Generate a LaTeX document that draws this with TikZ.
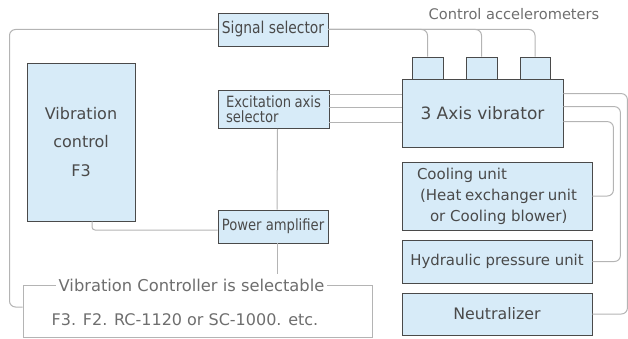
\documentclass[tikz,border=0pt]{standalone}
\usepackage{fontspec}
\setmainfont{DejaVu Sans}
\newfontfamily\condfont[FakeStretch=0.85]{DejaVu Sans}
\definecolor{boxfill}{HTML}{D7EBF8}
\definecolor{boxline}{HTML}{4A4A4A}
\definecolor{conncol}{HTML}{B4B4B4}
\definecolor{txtcol}{HTML}{4A4A4A}
\definecolor{lighttxt}{HTML}{6E6E6E}
\tikzset{
  unitbox/.style={draw=boxline, fill=boxfill, line width=0.8pt, inner sep=0pt, text=txtcol},
  conn/.style={draw=conncol, line width=1pt, rounded corners=6pt},
  smalllbl/.style={font=\condfont\fontsize{15.5}{15}\selectfont},
}
\begin{document}
\begin{tikzpicture}[x=1pt,y=-1pt]
\useasboundingbox (0,0) rectangle (628,339);
% boxes
\node[unitbox, font=\condfont\fontsize{16.3}{15}\selectfont, minimum width=110pt, minimum height=33pt] (sig) at (273,29.5) {Signal selector};
\node[unitbox, minimum width=111pt, minimum height=38pt] (exc) at (273.5,109.5)
  {\parbox{95pt}{\condfont\fontsize{15.5}{15}\selectfont Excitation axis\\selector}};
\node[unitbox, smalllbl, minimum width=110pt, minimum height=33pt] (amp) at (273,226.5) {Power amplifier};
\node[unitbox, minimum width=108pt, minimum height=158pt, align=center,
  font=\fontsize{16}{28.5}\selectfont] (f3) at (81,142) {Vibration\\control\\F3};
\node[unitbox, minimum width=161pt, minimum height=68pt, font=\fontsize{17}{20}\selectfont] (vib) at (482.5,113) {3 Axis vibrator};
\node[unitbox, minimum width=31pt, minimum height=22pt] (acc1) at (427.5,68) {};
\node[unitbox, minimum width=31pt, minimum height=22pt] (acc2) at (481.5,68) {};
\node[unitbox, minimum width=30pt, minimum height=22pt] (acc3) at (535,68) {};
\node[unitbox, minimum width=190pt, minimum height=68pt] (cool) at (497,196)
  {\parbox{160pt}{\fontsize{15}{21}\selectfont Cooling unit\\\hspace*{3pt}(Heat exchanger unit\\\hspace*{13pt}or Cooling blower)}};
\node[unitbox, minimum width=190pt, minimum height=43pt, font=\fontsize{14.9}{18}\selectfont] (hyd) at (497,261.5) {Hydraulic pressure unit};
\node[unitbox, minimum width=190pt, minimum height=42pt, font=\fontsize{15.8}{18}\selectfont] (neu) at (497,314) {Neutralizer};
\node[text=lighttxt, font=\fontsize{14.6}{16}\selectfont] (ctrl) at (514,14) {Control accelerometers};
% selectable frame
\node[draw=conncol, line width=1pt, minimum width=349pt, minimum height=52pt, inner sep=0pt] (sel) at (197.5,311) {};
\node[fill=white, text=lighttxt, inner xsep=3pt, inner ysep=1pt, font=\fontsize{16.3}{18}\selectfont] (seltitle) at (191.5,285) {Vibration Controller is selectable};
\node[text=lighttxt, font=\fontsize{16}{18}\selectfont] (seltext) at (185,320) {F3. F2. RC-1120 or SC-1000. etc.};
% connectors
\draw[conn] (sig.west) -| ([xshift=-13pt,yshift=4pt]sel.west) -- ([yshift=4pt]sel.west);
\draw[conn] (sig.east) -| (acc1.north);
\draw[conn] (sig.east) -| (acc2.north);
\draw[conn] (sig.east) -| (acc3.north);
\coordinate (e1) at ([yshift=-4pt]exc.north east);
\coordinate (e2) at ([yshift=-17pt]exc.north east);
\coordinate (e3) at ([yshift=-32pt]exc.north east);
\draw[conn] (e1) -- (e1 -| vib.west);
\draw[conn] (e2) -- (e2 -| vib.west);
\draw[conn] (e3) -- (e3 -| vib.west);
\draw[conn] ([yshift=-15pt]vib.north east) -| ([xshift=35pt]neu.east) -- (neu.east);
\draw[conn] ([yshift=-28pt]vib.north east) -| ([xshift=28pt]hyd.east) -- (hyd.east);
\draw[conn] ([yshift=-43pt]vib.north east) -| ([xshift=21pt]cool.east) -- (cool.east);
\draw[conn] ([xshift=4pt]exc.south) -- ([xshift=4pt]amp.north);
\coordinate (ab) at ([xshift=4pt]amp.south);
\draw[conn] (ab) -- ([yshift=3pt]ab |- seltitle.north);
\draw[conn, rounded corners=3pt] ([xshift=11pt]f3.south) |- ([yshift=-3.5pt]amp.west);
\end{tikzpicture}
\end{document}
